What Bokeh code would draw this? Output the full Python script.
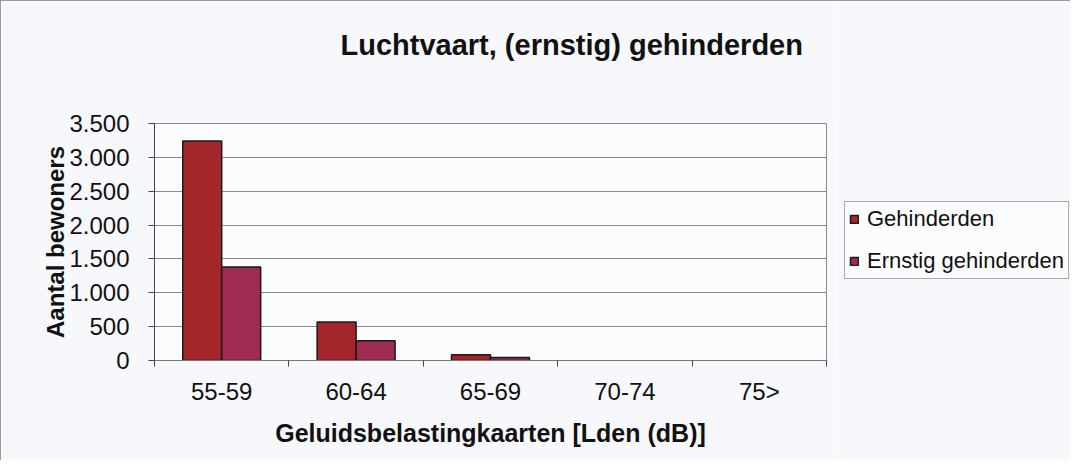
from bokeh.plotting import figure
from bokeh.layouts import row
from bokeh.models import (ColumnDataSource, FixedTicker, CustomJSTickFormatter,
                          Legend, LegendItem, Range1d, LinearAxis)
from bokeh.transform import dodge
from bokeh.embed import file_html
from bokeh.resources import INLINE

categories = ["55-59", "60-64", "65-69", "70-74", "75>"]
gehinderden = [3240, 570, 85, 0, 0]
ernstig_gehinderden = [1380, 290, 45, 0, 0]
series_names = ["Gehinderden", "Ernstig gehinderden"]
y_ticks = [0, 500, 1000, 1500, 2000, 2500, 3000, 3500]

FONT = "Liberation Sans"
C1 = "#A3262A"
C2 = "#9E2B50"
BG = "#F7F8FC"

def make_source(values):
    xs = [i + 0.5 for i, v in enumerate(values) if v > 0]
    ys = [v for v in values if v > 0]
    return ColumnDataSource(dict(x=xs, top=ys))

src_g = make_source(gehinderden)
src_e = make_source(ernstig_gehinderden)

p = figure(width=835, height=460, output_backend="svg", toolbar_location=None,
           x_range=Range1d(0, len(categories)), y_range=Range1d(0, 3500),
           min_border_left=153, min_border_right=10, min_border_top=122,
           min_border_bottom=101)
p.styles = {"border-left": "1px solid #9a9a9a", "border-top": "1px solid #9a9a9a"}
p.border_fill_color = BG
p.background_fill_color = "#FBFCFE"
p.outline_line_color = "#8a8a8a"
p.outline_line_width = 1

bw = 0.29
r1 = p.vbar(x=dodge("x", -bw / 2, range=p.x_range), top="top", width=bw, source=src_g,
            fill_color=C1, line_color="#1a1a1a", line_width=1.5)
r2 = p.vbar(x=dodge("x", bw / 2, range=p.x_range), top="top", width=bw, source=src_e,
            fill_color=C2, line_color="#1a1a1a", line_width=1.5)

# title
p.title.text = "Luchtvaart, (ernstig) gehinderden"
p.title.align = "left"
p.title.text_font = FONT
p.title.text_font_size = "29px"
p.title.text_font_style = "bold"
p.title.text_color = "#111111"
p.title.standoff = 0
p.title.offset = 186

# grid
p.xgrid.visible = False
p.ygrid.ticker = FixedTicker(ticks=y_ticks)
p.ygrid.grid_line_color = "#8a8a8a"
p.ygrid.grid_line_width = 1

# x axis (bottom)
xa = p.below[0]
centers = [i + 0.5 for i in range(len(categories))]
xa.ticker = FixedTicker(ticks=centers, minor_ticks=list(range(len(categories) + 1)))
xa.formatter = CustomJSTickFormatter(args=dict(labels=categories),
                                     code="return labels[Math.floor(tick)];")
xa.major_tick_out = 0
xa.major_tick_in = 0
xa.minor_tick_out = 6
xa.minor_tick_in = 0
xa.minor_tick_line_color = "#444444"
xa.axis_line_color = "#777777"
xa.major_label_standoff = 11
xa.axis_label = "Geluidsbelastingkaarten [Lden (dB)]"
xa.axis_label_standoff = 11

# y axis
ya = p.left[0]
ya.ticker = FixedTicker(ticks=y_ticks, minor_ticks=[])
ya.formatter = CustomJSTickFormatter(
    code="return String(tick).replace(/\\B(?=(\\d{3})+(?!\\d))/g, '.');")
ya.major_tick_out = 6
ya.major_tick_in = 0
ya.major_tick_line_color = "#444444"
ya.axis_line_color = "#444444"
ya.major_label_standoff = 19
ya.axis_label = "Aantal bewoners"
ya.axis_label_standoff = -3

for ax in (xa, ya):
    ax.major_label_text_font = FONT
    ax.major_label_text_font_size = "24px"
    ax.major_label_text_color = "#111111"
    ax.axis_label_text_font = FONT
    ax.axis_label_text_font_style = "bold"
    ax.axis_label_text_color = "#111111"
xa.axis_label_text_font_size = "25px"
ya.axis_label_text_font_size = "24px"

# invisible spacer between title and plot area (one hidden tick gives it its height)
top_spacer = LinearAxis(ticker=FixedTicker(ticks=[2.5], minor_ticks=[]),
                        formatter=CustomJSTickFormatter(code="return '';"),
                        major_tick_out=63, major_tick_in=0, minor_tick_out=0,
                        major_label_standoff=0, axis_line_color=None,
                        major_tick_line_color=None, minor_tick_line_color=None,
                        major_label_text_color=None)
p.add_layout(top_spacer, "above")

# legend panel (its frame is aligned with the main plot area by the row)
q = figure(width=235, height=460, output_backend="svg", toolbar_location=None,
           x_range=Range1d(0, 1), y_range=Range1d(0, 1),
           x_axis_type=None, y_axis_type=None,
           min_border_left=0, min_border_right=0, min_border_top=0, min_border_bottom=0)
q.styles = {"border-top": "1px solid #9a9a9a"}
q.border_fill_color = BG
q.background_fill_color = BG
q.outline_line_color = None
q.grid.visible = False
# legend-only swatch renderers (hidden; they only supply the legend glyph styles)
lg1 = q.vbar(x=[-10], top=[1], width=bw, fill_color=C1, line_color="#1a1a1a",
             line_width=1.5, visible=False)
lg2 = q.vbar(x=[-10], top=[1], width=bw, fill_color=C2, line_color="#1a1a1a",
             line_width=1.5, visible=False)

legend = Legend(items=[LegendItem(label=series_names[0], renderers=[lg1]),
                       LegendItem(label=series_names[1], renderers=[lg2])],
                location=(9, 81))
legend.label_text_font = FONT
legend.label_text_font_size = "22px"
legend.label_text_color = "#111111"
legend.glyph_width = 10
legend.glyph_height = 10
legend.label_height = 26
legend.spacing = 16
legend.padding = 4
legend.label_standoff = 8
legend.margin = 0
legend.border_line_color = "#555555"
legend.border_line_width = 1
legend.background_fill_color = "#FBFCFE"
q.add_layout(legend)

layout = row(p, q, spacing=0)
open("out.html", "w").write(file_html(layout, INLINE))
